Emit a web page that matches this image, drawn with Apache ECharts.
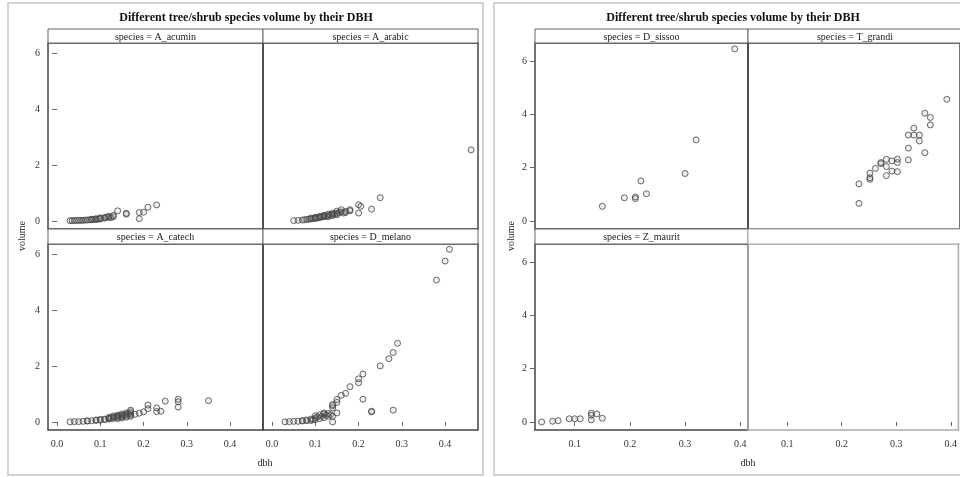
<!DOCTYPE html>
<html>
<head>
<meta charset="utf-8">
<title>Tree volume by DBH</title>
<script src="https://cdn.jsdelivr.net/npm/echarts@6/dist/echarts.min.js"></script>
<style>html,body{margin:0;padding:0;background:#fff}</style>
</head>
<body>
<div id="main" style="width:960px;height:477px;"></div>
<script type="text/javascript">
// data
var chartTitle = 'Different tree/shrub species volume by their DBH';
var speciesLeft = ['A_acumin', 'A_arabic', 'A_catech', 'D_melano'];
var speciesRight = ['D_sissoo', 'T_grandi', 'Z_maurit', ''];
var yTicks = [0, 2, 4, 6];
var xTicksLeft = [0, 0.1, 0.2, 0.3, 0.4];
var xTicksRight = [0.1, 0.2, 0.3, 0.4];

var acuminDbh = [0.03,0.035,0.04,0.045,0.05,0.055,0.06,0.065,0.07,0.075,0.08,0.08,0.085,0.09,0.09,0.095,0.10,0.10,0.10,0.11,0.11,0.115,0.12,0.12,0.125,0.13,0.13,0.14,0.16,0.16,0.19,0.19,0.20,0.21,0.23];
var acuminVol = [0.01,0.01,0.01,0.015,0.02,0.02,0.02,0.03,0.03,0.04,0.04,0.06,0.05,0.05,0.08,0.06,0.07,0.09,0.11,0.10,0.12,0.14,0.13,0.16,0.12,0.15,0.20,0.36,0.24,0.27,0.30,0.08,0.31,0.49,0.57];

var arabicDbh = [0.05,0.06,0.07,0.075,0.08,0.085,0.09,0.09,0.095,0.10,0.10,0.10,0.105,0.11,0.11,0.11,0.115,0.12,0.12,0.12,0.125,0.13,0.13,0.13,0.135,0.14,0.14,0.14,0.145,0.15,0.15,0.15,0.155,0.16,0.16,0.165,0.17,0.17,0.18,0.18,0.20,0.205,0.20,0.23,0.25,0.46];
var arabicVol = [0.01,0.02,0.03,0.04,0.05,0.06,0.07,0.10,0.08,0.09,0.13,0.11,0.10,0.12,0.16,0.14,0.14,0.15,0.20,0.17,0.17,0.19,0.24,0.15,0.21,0.23,0.28,0.19,0.25,0.27,0.35,0.22,0.30,0.32,0.40,0.28,0.34,0.30,0.36,0.40,0.58,0.52,0.28,0.42,0.83,2.54];

var catechDbh = [0.03,0.04,0.05,0.06,0.07,0.07,0.08,0.09,0.09,0.10,0.10,0.11,0.11,0.12,0.12,0.12,0.125,0.13,0.13,0.13,0.135,0.14,0.14,0.14,0.14,0.145,0.15,0.15,0.15,0.15,0.155,0.16,0.16,0.16,0.16,0.165,0.17,0.17,0.17,0.17,0.17,0.18,0.19,0.20,0.21,0.21,0.23,0.23,0.24,0.25,0.28,0.28,0.28,0.35];
var catechVol = [0.00,0.01,0.01,0.02,0.03,0.04,0.04,0.05,0.07,0.06,0.09,0.08,0.10,0.10,0.13,0.16,0.14,0.12,0.17,0.21,0.18,0.15,0.20,0.24,0.12,0.22,0.18,0.23,0.28,0.14,0.25,0.21,0.27,0.32,0.17,0.29,0.24,0.30,0.36,0.42,0.20,0.27,0.31,0.36,0.47,0.60,0.37,0.50,0.38,0.74,0.53,0.72,0.81,0.76];

var melanoDbh = [0.03,0.04,0.05,0.06,0.07,0.07,0.08,0.08,0.09,0.09,0.095,0.10,0.10,0.10,0.105,0.11,0.11,0.115,0.12,0.12,0.12,0.125,0.13,0.13,0.135,0.14,0.14,0.14,0.14,0.14,0.15,0.15,0.15,0.16,0.17,0.18,0.20,0.20,0.21,0.21,0.23,0.23,0.25,0.27,0.28,0.28,0.29,0.38,0.40,0.41];
var melanoVol = [0.00,0.01,0.02,0.02,0.03,0.05,0.04,0.07,0.05,0.10,0.08,0.08,0.14,0.22,0.18,0.12,0.25,0.20,0.15,0.28,0.32,0.24,0.20,0.30,0.26,0.00,0.20,0.50,0.58,0.62,0.32,0.70,0.80,0.95,1.02,1.26,1.40,1.54,1.71,0.81,0.36,0.38,2.00,2.26,2.48,0.42,2.81,5.07,5.75,6.17];

var sissooDbh = [0.15,0.19,0.21,0.21,0.22,0.23,0.30,0.32,0.39];
var sissooVol = [0.55,0.87,0.84,0.90,1.50,1.02,1.78,3.04,6.45];

var grandiDbh = [0.23,0.23,0.25,0.25,0.25,0.26,0.27,0.27,0.28,0.28,0.28,0.29,0.29,0.30,0.30,0.30,0.32,0.32,0.32,0.33,0.33,0.34,0.34,0.35,0.35,0.36,0.36,0.39];
var grandiVol = [0.66,1.39,1.56,1.62,1.79,1.97,2.15,2.19,1.70,2.04,2.31,1.87,2.25,1.85,2.19,2.32,2.29,2.73,3.22,3.22,3.48,3.22,3.00,2.56,4.04,3.60,3.88,4.56];

var mauritDbh = [0.04,0.06,0.07,0.09,0.10,0.11,0.13,0.13,0.13,0.14,0.15];
var mauritVol = [0.00,0.03,0.05,0.12,0.12,0.12,0.33,0.25,0.08,0.30,0.14];

function zip(a, b) {
	var out = [];
	for (var i = 0; i < a.length; i++) out.push([a[i], b[i]]);
	return out;
}

var cellData = [
	zip(acuminDbh, acuminVol), zip(arabicDbh, arabicVol),
	zip(catechDbh, catechVol), zip(melanoDbh, melanoVol),
	zip(sissooDbh, sissooVol), zip(grandiDbh, grandiVol),
	zip(mauritDbh, mauritVol), null
];

// layout of the two panel groups
var FONT = 'Liberation Serif';
var headTops = [29, 229];
var plotTops = [43, 244];
var plotH = 186;
var panels = [
	{ cols: [48, 263, 478], names: speciesLeft, xMin: -0.021, xMax: 0.476, yMin: -0.29, yMax: 6.36,
	  xTicks: xTicksLeft, frame: [8, 3, 475, 472], titleX: 246, ylabX: 22, dbhX: 265 },
	{ cols: [535, 748, 962], names: speciesRight, xMin: 0.028, xMax: 0.414, yMin: -0.3, yMax: 6.67,
	  xTicks: xTicksRight, frame: [494, 3, 480, 472], titleX: 733, ylabX: 511, dbhX: 748 }
];

var grids = [], xAxes = [], yAxes = [], series = [], graphics = [];
var idx = 0;
panels.forEach(function (p) {
	graphics.push({ type: 'rect', shape: { x: p.frame[0], y: p.frame[1], width: p.frame[2], height: p.frame[3] },
		style: { fill: 'none', stroke: '#d4d4d4', lineWidth: 2 }, z: 0 });
	graphics.push({ type: 'text', x: p.titleX, y: 18,
		style: { text: chartTitle, font: 'bold 12px ' + FONT, fill: '#111', textAlign: 'center', textVerticalAlign: 'middle' } });
	graphics.push({ type: 'text', x: p.ylabX, y: 236, rotation: Math.PI / 2,
		style: { text: 'volume', font: '10px ' + FONT, fill: '#222', textAlign: 'center', textVerticalAlign: 'middle' } });
	graphics.push({ type: 'text', x: p.dbhX, y: 463,
		style: { text: 'dbh', font: '10px ' + FONT, fill: '#222', textAlign: 'center', textVerticalAlign: 'middle' } });

	for (var c = 0; c < 4; c++) {
		var row = c >> 1, col = c & 1;
		var x0 = p.cols[col], w = p.cols[col + 1] - p.cols[col];
		var empty = !p.names[c];
		grids.push({ left: x0, top: plotTops[row], width: w, height: plotH,
			show: true, borderColor: empty ? '#aaa' : '#444', borderWidth: 1.5, backgroundColor: 'transparent' });
		graphics.push({ type: 'rect', shape: { x: x0, y: headTops[row], width: w, height: plotTops[row] - headTops[row] },
			style: { fill: '#fff', stroke: empty ? '#aaa' : '#666', lineWidth: 1 }, z: 1 });
		if (!empty) {
			graphics.push({ type: 'text', x: x0 + w / 2, y: (headTops[row] + plotTops[row]) / 2 + 1,
				style: { text: 'species = ' + p.names[c], font: '10px ' + FONT, fill: '#222', textAlign: 'center', textVerticalAlign: 'middle' }, z: 2 });
		}
		var showX = row === 1, showY = col === 0;
		xAxes.push({ gridIndex: idx, type: 'value', min: p.xMin, max: p.xMax,
			axisLine: { show: false }, splitLine: { show: false },
			axisTick: { show: showX, customValues: p.xTicks, length: 4, lineStyle: { color: '#666' } },
			axisLabel: { show: showX, customValues: p.xTicks, margin: 9, fontFamily: FONT, fontSize: 10, color: '#333',
				formatter: function (v) { return v.toFixed(1); } } });
		yAxes.push({ gridIndex: idx, type: 'value', min: p.yMin, max: p.yMax,
			axisLine: { show: false }, splitLine: { show: false },
			axisTick: { show: showY, customValues: yTicks, length: 5, lineStyle: { color: '#666' } },
			axisLabel: { show: showY, customValues: yTicks, margin: 8, fontFamily: FONT, fontSize: 10, color: '#333' } });
		if (cellData[idx]) {
			series.push({ type: 'scatter', xAxisIndex: idx, yAxisIndex: idx, data: cellData[idx],
				symbol: 'circle', symbolSize: 6, silent: true,
				itemStyle: { color: 'rgba(120,120,120,0.15)', borderColor: '#444', borderWidth: 1 } });
		}
		idx++;
	}
});

var myChart = echarts.init(document.getElementById('main'));
myChart.setOption({
	animation: false,
	backgroundColor: '#fff',
	grid: grids,
	xAxis: xAxes,
	yAxis: yAxes,
	series: series,
	graphic: graphics
});
</script>
</body>
</html>
